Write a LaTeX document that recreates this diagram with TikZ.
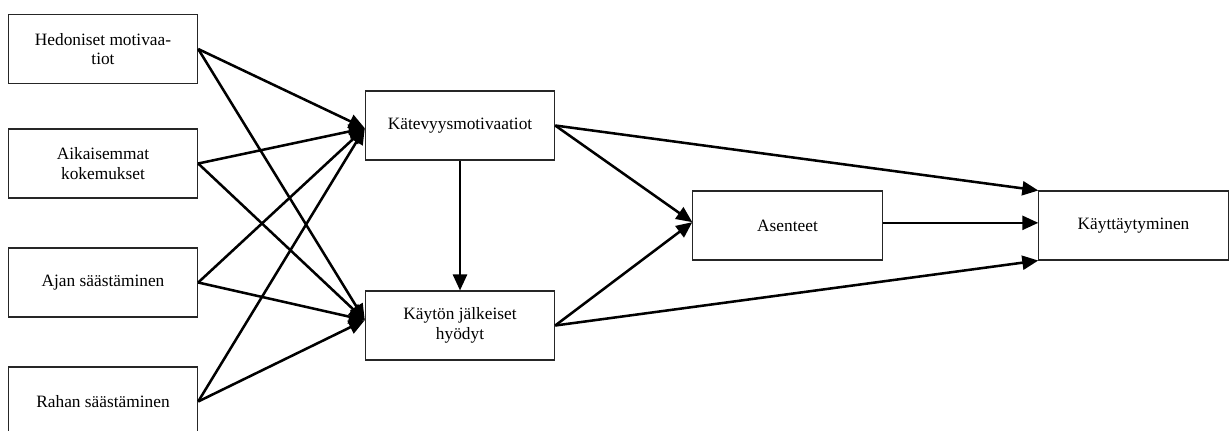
\documentclass[tikz,border=0pt]{standalone}
\usepackage{fontspec}
\setmainfont{Liberation Serif}
\usetikzlibrary{arrows.meta}
\begin{document}
\begin{tikzpicture}[x=0.75pt,y=-0.75pt,
  box/.style={draw=black!85, line width=0.8pt, minimum width=142pt, minimum height=51.75pt,
    inner sep=0pt, align=center, font=\fontsize{13}{14.5}\selectfont},
  arr/.style={line width=1.9pt, -{Triangle[length=12pt,width=10.5pt]}}]
\useasboundingbox (0,0) rectangle (1230,430);
\node[box] (hed) at (103,49) {Hedoniset motivaa-\\tiot};
\node[box] (aik) at (103,163.5) {Aikaisemmat\\kokemukset};
\node[box] (ajan) at (103,282.5) {Ajan säästäminen};
\node[box] (rah) at (103,401.5) {Rahan säästäminen};
\node[box] (kat) at (460,125.5) {Kätevyysmotivaatiot};
\node[box] (kay) at (460,325.5) {Käytön jälkeiset\\hyödyt};
\node[box] (ase) at (787.5,225.5) {Asenteet};
\node[box] (kt) at (1133.5,225.5) {Käyttäytyminen};
% inputs to Katevyys and Kayton
\foreach \s in {hed,aik,ajan,rah}{
  \draw[arr] (\s.east) -- ([yshift=-2pt]kat.west);
  \draw[arr] (\s.east) -- ([yshift=4pt]kay.west);
}
\draw[arr] (kat.south) -- (kay.north);
\draw[arr] (kat.east) -- ([yshift=2.5pt]ase.west);
\draw[arr] (kay.east) -- ([yshift=2.5pt]ase.west);
\draw[arr] (kat.east) -- (kt.north west);
\draw[arr] ([yshift=2pt]ase.east) -- ([yshift=2pt]kt.west);
\draw[arr] (kay.east) -- (kt.south west);
\end{tikzpicture}
\end{document}
